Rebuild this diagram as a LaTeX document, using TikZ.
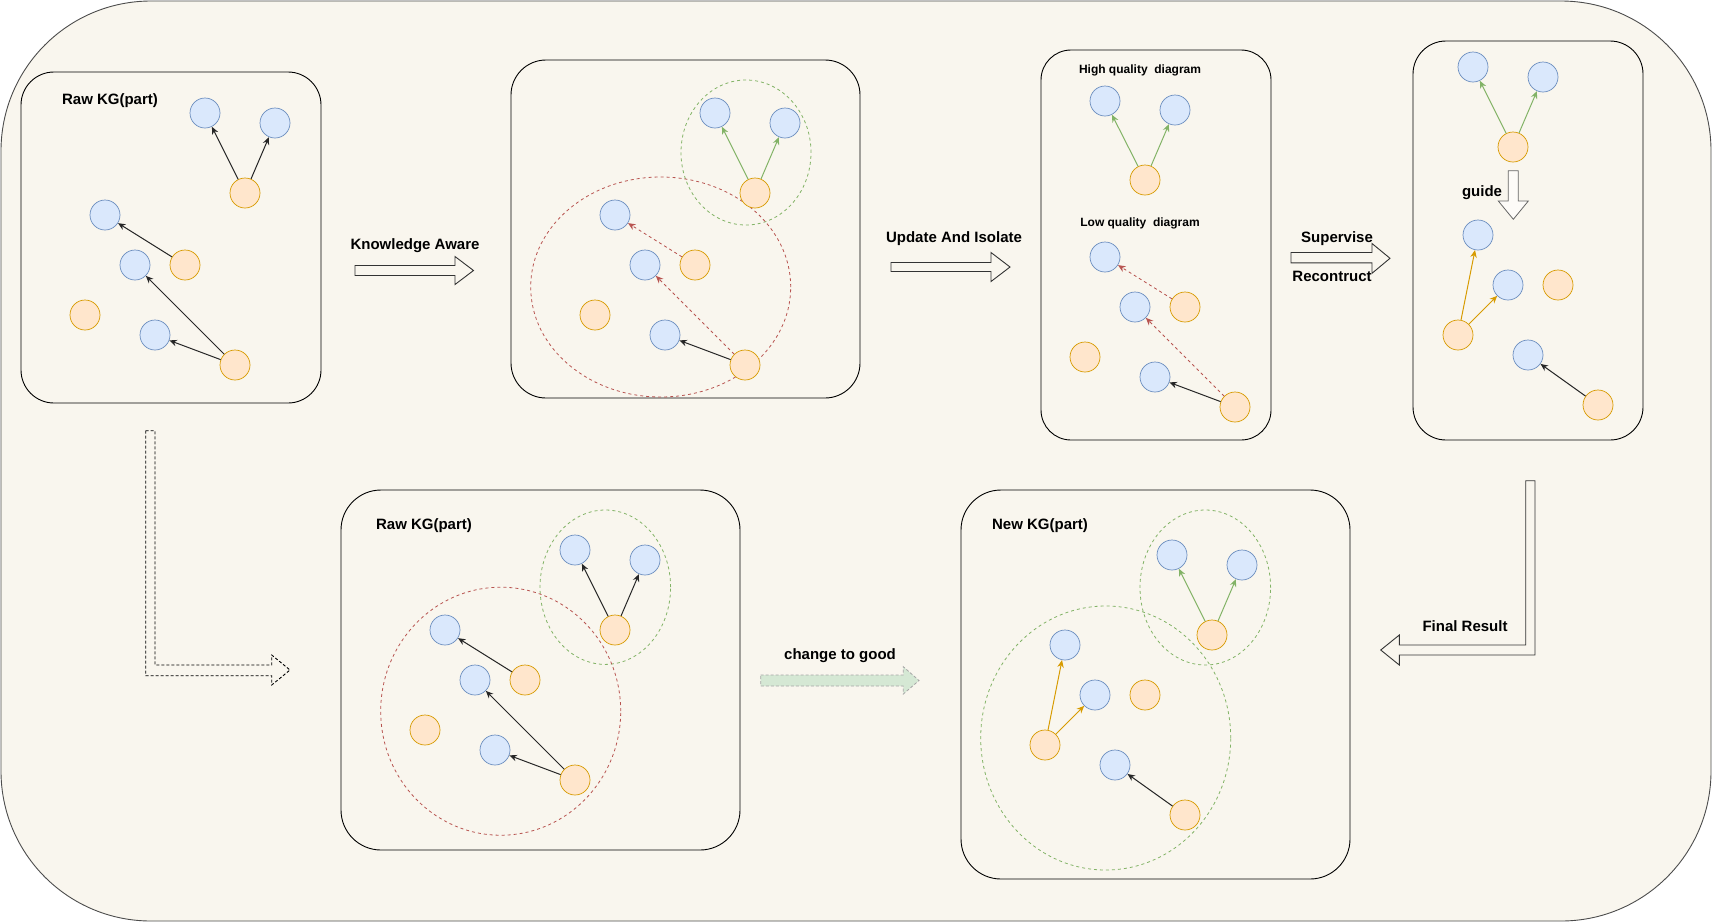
\documentclass[tikz,border=0pt]{standalone}
\usepackage{fontspec}
\setmainfont{Liberation Sans}
\usetikzlibrary{arrows.meta,shapes.geometric}

\definecolor{bgc}{HTML}{F9F6EE}
\definecolor{bfill}{HTML}{DAE8FC}
\definecolor{bdraw}{HTML}{6C8EBF}
\definecolor{ofill}{HTML}{FFE6CC}
\definecolor{odraw}{HTML}{D79B00}
\definecolor{gline}{HTML}{82B366}
\definecolor{rline}{HTML}{B85450}
\definecolor{goldl}{HTML}{D79B00}
\definecolor{cgfill}{HTML}{D5E8D4}

\tikzset{
  bcirc/.style={circle, minimum size=30pt, inner sep=0pt, fill=bfill, draw=bdraw, line width=0.7pt},
  ocirc/.style={circle, minimum size=30pt, inner sep=0pt, fill=ofill, draw=odraw, line width=0.7pt},
  panel/.style={draw=black, line width=0.9pt, fill=bgc},
  blkarr/.style={-{Stealth[length=7.5pt,width=6.5pt]}, line width=1pt, draw=black!85},
  grnarr/.style={-{Stealth[length=7.5pt,width=6.5pt]}, line width=1pt, draw=gline},
  redarr/.style={-{Stealth[length=7.5pt,width=6.5pt]}, line width=0.8pt, draw=rline, dash pattern=on 3pt off 3pt},
  goldarr/.style={-{Stealth[length=7.5pt,width=6.5pt]}, line width=1pt, draw=goldl},
  grpg/.style={draw=gline, line width=0.8pt, dash pattern=on 3pt off 3pt},
  grpr/.style={draw=rline, line width=0.8pt, dash pattern=on 3pt off 3pt},
  ttl/.style={font=\bfseries\fontsize{15}{17}\selectfont, inner sep=0pt},
  sttl/.style={font=\bfseries\fontsize{12}{14}\selectfont, inner sep=0pt},
  blockar/.style={draw=black!80, line width=0.9pt, fill=bgc, line join=miter}
}

\begin{document}
\begin{tikzpicture}[x=1pt,y=-1pt]
\useasboundingbox (0,0) rectangle (1712,922);
\draw[draw=black!70, line width=0.9pt, fill=bgc, rounded corners=150pt] (1,1) rectangle (1711,921);

% ---------- panel 1 ----------
\draw[panel, rounded corners=33pt] (21,72) rectangle (321,403);
\node[ttl] (t1) at (110,101) {Raw KG(part)};
\node[bcirc] (a-b1) at (205,113) {};
\node[bcirc] (a-b2) at (275,123) {};
\node[ocirc] (a-o1) at (245,193) {};
\node[bcirc] (a-b3) at (105,215) {};
\node[bcirc] (a-b4) at (135,265) {};
\node[ocirc] (a-o2) at (185,265) {};
\node[ocirc] (a-o3) at (85,315) {};
\node[bcirc] (a-b5) at (155,335) {};
\node[ocirc] (a-o4) at (235,365) {};
\draw[blkarr] (a-o1) -- (a-b1);
\draw[blkarr] (a-o1) -- (a-b2);
\draw[blkarr] (a-o2) -- (a-b3);
\draw[blkarr] (a-o4) -- (a-b4);
\draw[blkarr] (a-o4) -- (a-b5);

% Knowledge Aware arrow
\node[ttl] (lka) at (415,246) {Knowledge Aware};
\draw[blockar] (355,265.5) -- (455,265.5) -- (455,256.5) -- (473.5,270.5) -- (455,284.5) -- (455,275.5) -- (355,275.5) -- cycle;

% ---------- panel 2 ----------
\draw[panel, rounded corners=35pt] (511,60) rectangle (860,398);
\draw[grpg] (746,152.5) ellipse [x radius=65pt, y radius=72.5pt];
\draw[grpr] (660.7,287) ellipse [x radius=130pt, y radius=110pt];
\node[bcirc] (b-b1) at (715,113) {};
\node[bcirc] (b-b2) at (785,123) {};
\node[ocirc] (b-o1) at (755,193) {};
\node[bcirc] (b-b3) at (615,215) {};
\node[bcirc] (b-b4) at (645,265) {};
\node[ocirc] (b-o2) at (695,265) {};
\node[ocirc] (b-o3) at (595,315) {};
\node[bcirc] (b-b5) at (665,335) {};
\node[ocirc] (b-o4) at (745,365) {};
\draw[grnarr] (b-o1) -- (b-b1);
\draw[grnarr] (b-o1) -- (b-b2);
\draw[redarr] (b-o2) -- (b-b3);
\draw[redarr] (b-o4) -- (b-b4);
\draw[blkarr] (b-o4) -- (b-b5);

% Update And Isolate arrow
\node[ttl] (lui) at (954,239) {Update And Isolate};
\draw[blockar] (891,262.5) -- (991,262.5) -- (991,252.5) -- (1010,267) -- (991,281.5) -- (991,271.5) -- (891,271.5) -- cycle;

% ---------- panel 3 ----------
\draw[panel, rounded corners=30pt] (1041,50) rectangle (1271,440);
\node[sttl] (hq) at (1140,70) {High quality\ \ diagram};
\node[sttl] (lq) at (1140,223) {Low quality\ \ diagram};
\node[bcirc] (c-b1) at (1105,101) {};
\node[bcirc] (c-b2) at (1175,110) {};
\node[ocirc] (c-o1) at (1145,180) {};
\node[bcirc] (c-b3) at (1105,257) {};
\node[bcirc] (c-b4) at (1135,307) {};
\node[ocirc] (c-o2) at (1185,307) {};
\node[ocirc] (c-o3) at (1085,357) {};
\node[bcirc] (c-b5) at (1155,377) {};
\node[ocirc] (c-o4) at (1235,407) {};
\draw[grnarr] (c-o1) -- (c-b1);
\draw[grnarr] (c-o1) -- (c-b2);
\draw[redarr] (c-o2) -- (c-b3);
\draw[redarr] (c-o4) -- (c-b4);
\draw[blkarr] (c-o4) -- (c-b5);

% Supervise / Recontruct arrow
\node[ttl] (lsup) at (1337,238.5) {Supervise};
\node[ttl] (lrec) at (1332,276) {Recontruct};
\draw[blockar] (1291,252.5) -- (1372,252.5) -- (1372,243.5) -- (1390,258.3) -- (1372,273.3) -- (1372,262.8) -- (1291,262.8) -- cycle;

% ---------- panel 4 ----------
\draw[panel, rounded corners=33pt] (1413,41) rectangle (1643,440);
\node[bcirc] (d-b1) at (1473,67) {};
\node[bcirc] (d-b2) at (1543,77) {};
\node[ocirc] (d-o1) at (1513,147) {};
\draw[draw=black!60, line width=0.8pt, fill=white!60!bgc] (1508.3,170.7) -- (1518.3,170.7) -- (1518.3,201) -- (1528.3,201) -- (1513.3,219.3) -- (1498.3,201) -- (1508.3,201) -- cycle;
\node[ttl] (lguide) at (1482,193) {guide};
\node[bcirc] (d-b3) at (1478,235) {};
\node[bcirc] (d-b4) at (1508,285) {};
\node[ocirc] (d-o2) at (1558,285) {};
\node[ocirc] (d-o3) at (1458,335) {};
\node[bcirc] (d-b5) at (1528,355) {};
\node[ocirc] (d-o4) at (1598,405) {};
\draw[grnarr] (d-o1) -- (d-b1);
\draw[grnarr] (d-o1) -- (d-b2);
\draw[goldarr] (d-o3) -- (d-b3);
\draw[goldarr] (d-o3) -- (d-b4);
\draw[blkarr] (d-o4) -- (d-b5);

% Final Result arrow
\draw[blockar] (1525.7,480.7) -- (1535,480.7) -- (1535,655) -- (1399.3,655) -- (1399.3,665) -- (1380.7,650) -- (1399.3,635) -- (1399.3,645) -- (1525.7,645) -- cycle;
\node[ttl] (lfin) at (1465,626) {Final Result};

% dashed L arrow
\draw[draw=black, line width=0.9pt, dash pattern=on 3pt off 2pt, fill=bgc] (145.7,430.7) -- (155,430.7) -- (155,665) -- (271.7,665) -- (271.7,655) -- (290,670) -- (271.7,685) -- (271.7,675.7) -- (145.7,675.7) -- cycle;

% ---------- panel 5 ----------
\draw[panel, rounded corners=40pt] (341,490) rectangle (740,850);
\node[ttl] (t5) at (424,525.5) {Raw KG(part)};
\draw[grpg] (605.3,587.2) ellipse [x radius=65.3pt, y radius=77.2pt];
\draw[grpr] (500.7,711.2) ellipse [x radius=120pt, y radius=124pt];
\node[bcirc] (e-b1) at (575,550) {};
\node[bcirc] (e-b2) at (645,560) {};
\node[ocirc] (e-o1) at (615,630) {};
\node[bcirc] (e-b3) at (445,630) {};
\node[bcirc] (e-b4) at (475,680) {};
\node[ocirc] (e-o2) at (525,680) {};
\node[ocirc] (e-o3) at (425,730) {};
\node[bcirc] (e-b5) at (495,750) {};
\node[ocirc] (e-o4) at (575,780) {};
\draw[blkarr] (e-o1) -- (e-b1);
\draw[blkarr] (e-o1) -- (e-b2);
\draw[blkarr] (e-o2) -- (e-b3);
\draw[blkarr] (e-o4) -- (e-b4);
\draw[blkarr] (e-o4) -- (e-b5);

% change to good arrow
\node[ttl] (lcg) at (840,655.5) {change to good};
\draw[draw=black!35, line width=0.8pt, dash pattern=on 3pt off 2pt, fill=cgfill] (760.7,675) -- (903.3,675) -- (903.3,666.7) -- (919,680.5) -- (903.3,694) -- (903.3,686) -- (760.7,686) -- cycle;

% ---------- panel 6 ----------
\draw[panel, rounded corners=40pt] (961,490) rectangle (1350,879);
\node[ttl] (t6) at (1040,526) {New KG(part)};
\draw[grpg] (1205.3,587.5) ellipse [x radius=65.3pt, y radius=77.5pt];
\draw[grpg] (1105.7,738) ellipse [x radius=125pt, y radius=132pt];
\node[bcirc] (f-b1) at (1172,555) {};
\node[bcirc] (f-b2) at (1242,565) {};
\node[ocirc] (f-o1) at (1212,635) {};
\node[bcirc] (f-b3) at (1065,645) {};
\node[bcirc] (f-b4) at (1095,695) {};
\node[ocirc] (f-o2) at (1145,695) {};
\node[ocirc] (f-o3) at (1045,745) {};
\node[bcirc] (f-b5) at (1115,765) {};
\node[ocirc] (f-o4) at (1185,815) {};
\draw[grnarr] (f-o1) -- (f-b1);
\draw[grnarr] (f-o1) -- (f-b2);
\draw[goldarr] (f-o3) -- (f-b3);
\draw[goldarr] (f-o3) -- (f-b4);
\draw[blkarr] (f-o4) -- (f-b5);
\end{tikzpicture}
\end{document}
